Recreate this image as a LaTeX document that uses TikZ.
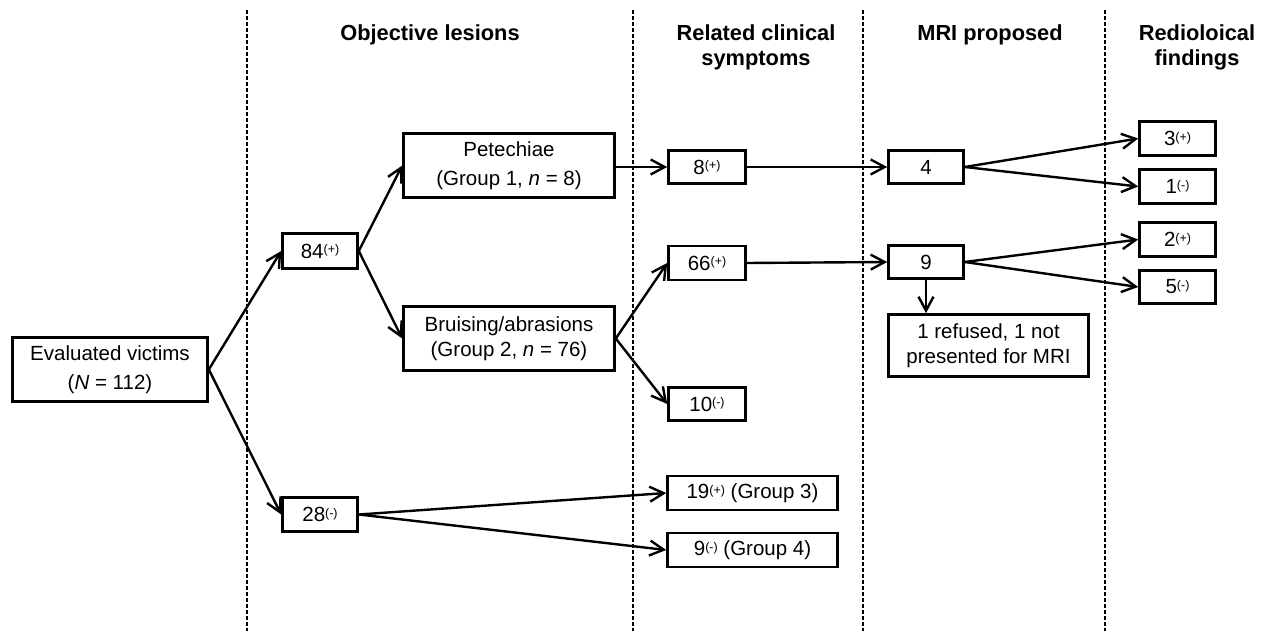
\documentclass[tikz,border=0pt]{standalone}
\usepackage{fontspec}
\setmainfont{Liberation Sans}
\usetikzlibrary{arrows.meta}
\newcommand\sgn[1]{\raisebox{4.3pt}{\fontsize{12.5}{12.5}\selectfont(#1)}}
\begin{document}
\begin{tikzpicture}[x=1pt,y=-1pt,
  box/.style={draw, line width=2.6pt, inner sep=0pt, align=center, font=\fontsize{20.5}{24.5}\selectfont},
  wide/.style={font=\fontsize{20.5}{29}\selectfont},
  hdr/.style={align=center, inner sep=0pt, font=\fontsize{21.8}{25}\selectfont\bfseries},
  arr/.style={line width=2.4pt, -{Straight Barb[length=14pt,width=15pt]}},
  sep/.style={line width=1.1pt, dash pattern=on 4pt off 2pt}]
\useasboundingbox (0,0) rectangle (1266,631);

% column separators
\draw[sep] (247,10) -- (247,631);
\draw[sep] (633,10) -- (633,631);
\draw[sep] (863,10) -- (863,631);
\draw[sep] (1105,10) -- (1105,631);

% headers
\node[hdr] (h1) at (430,34.4) {Objective lesions};
\node[hdr] (h2) at (756,47) {Related clinical\\symptoms};
\node[hdr] (h3) at (990,34.4) {MRI proposed};
\node[hdr] (h4) at (1197,47) {Redioloical\\findings};

% boxes
\node[box, wide, minimum width=195, minimum height=64] (ev) at (110,369.5) {Evaluated victims\\(\textit{N} = 112)};
\node[box, minimum width=75, minimum height=35] (p84) at (320,251) {84\sgn{+}};
\node[box, minimum width=75, minimum height=34] (n28) at (320,514.5) {28\sgn{-}};
\node[box, wide, minimum width=211, minimum height=64] (pet) at (509,165.5) {Petechiae\\(Group 1, \textit{n} = 8)};
\node[box, minimum width=211, minimum height=64] (bru) at (509,338.5) {Bruising/abrasions\\(Group 2, \textit{n} = 76)};
\node[box, minimum width=77, minimum height=33] (s8) at (707,167) {8\sgn{+}};
\node[box, minimum width=77, minimum height=34] (s66) at (707,263) {66\sgn{+}};
\node[box, minimum width=77, minimum height=33] (s10) at (707,404) {10\sgn{-}};
\node[box, minimum width=170, minimum height=34] (g3) at (752.5,493) {19\sgn{+} (Group 3)};
\node[box, minimum width=170, minimum height=34] (g4) at (752.5,550) {9\sgn{-} (Group 4)};
\node[box, minimum width=75, minimum height=33] (m4) at (926,167) {4};
\node[box, minimum width=75, minimum height=33] (m9) at (926,262) {9};
\node[box, minimum width=200, minimum height=62] (ref) at (988.5,345.5) {1 refused, 1 not\\presented for MRI};
\node[box, minimum width=76, minimum height=34] (r3) at (1177.5,138.5) {3\sgn{+}};
\node[box, minimum width=76, minimum height=34] (r1) at (1177.5,186.5) {1\sgn{-}};
\node[box, minimum width=76, minimum height=34] (r2) at (1177.5,239.5) {2\sgn{+}};
\node[box, minimum width=76, minimum height=33] (r5) at (1177.5,287) {5\sgn{-}};

% connectors
\draw[arr] (ev.east) -- (p84.west);
\draw[arr] (ev.east) -- (n28.west);
\draw[arr] (p84.east) -- (pet.west);
\draw[arr] (p84.east) -- (bru.west);
\draw[arr] (pet.east |- s8.west) -- (s8.west);
\draw[arr] (bru.east) -- (s66.west);
\draw[arr] (bru.east) -- (s10.west);
\draw[arr] (s8.east) -- (m4.west);
\draw[arr] (s66.east) -- (m9.west);
\draw[arr] (m4.east) -- (r3.west);
\draw[arr] (m4.east) -- (r1.west);
\draw[arr] (m9.east) -- (r2.west);
\draw[arr] (m9.east) -- (r5.west);
\draw[arr] (m9.south) -- (m9.south |- ref.north);
\draw[arr] (n28.east) -- (g3.west);
\draw[arr] (n28.east) -- (g4.west);
\end{tikzpicture}
\end{document}
